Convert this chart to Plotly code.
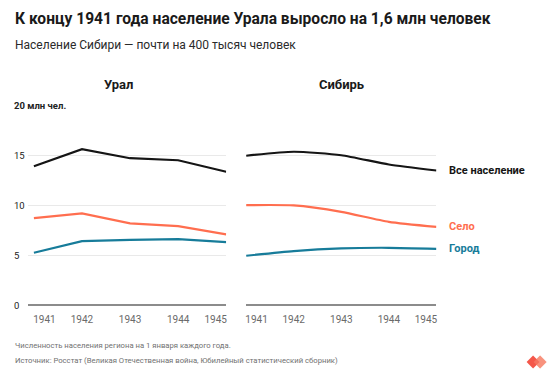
import plotly.graph_objects as go

# ---- data ----
years = [1941, 1942, 1943, 1944, 1945]
year_labels = ["1941", "1942", "1943", "1944", "1945"]

ural_total = [13.9, 15.6, 14.7, 14.5, 13.35]
ural_village = [8.7, 9.17, 8.17, 7.9, 7.07]
ural_city = [5.23, 6.4, 6.53, 6.6, 6.3]

sib_total = [14.95, 15.35, 15.0, 14.07, 13.47]
sib_village = [10.0, 9.97, 9.33, 8.33, 7.83]
sib_city = [4.93, 5.4, 5.67, 5.73, 5.63]

series_names = ["Все население", "Село", "Город"]
y_ticks = [0, 5, 10, 15, 20]
y_tick_text = ["0", "5", "10", "15", "20 млн чел."]

title = "К концу 1941 года население Урала выросло на 1,6 млн человек"
subtitle = "Население Сибири — почти на 400 тысяч человек"
panel_titles = ["Урал", "Сибирь"]
note1 = "Численность населения региона на 1 января каждого года."
note2 = "Источник: Росстат (Великая Отечественная война, Юбилейный статистический сборник)"

# ---- style ----
OFF = 8  # page body margin
W, H = 556 - OFF, 377 - OFF
FONT = "Roboto"
colors = ["#151515", "#FF6E4F", "#177C9A"]
LW = 2.2


def px_x(p):
    return (p - OFF) / W


def px_y(p):
    return 1 - (p - OFF) / H


fig = go.Figure()

for series, col in zip([ural_total, ural_village, ural_city], colors):
    fig.add_trace(go.Scatter(x=years, y=series, mode="lines",
                             line=dict(color=col, width=LW),
                             xaxis="x", yaxis="y", showlegend=False,
                             hoverinfo="skip"))
for series, col in zip([sib_total, sib_village, sib_city], colors):
    fig.add_trace(go.Scatter(x=years, y=series, mode="lines",
                             line=dict(color=col, width=LW, shape="spline", smoothing=0.6),
                             xaxis="x2", yaxis="y2", showlegend=False,
                             hoverinfo="skip"))

inset = 0.22
tickvals = [years[0] + inset] + years[1:-1] + [years[-1] - inset]

xcommon = dict(showgrid=False, zeroline=False, showline=False,
               tickvals=tickvals, ticktext=year_labels,
               ticks="outside", ticklen=5, tickcolor="rgba(0,0,0,0)",
               tickfont=dict(family=FONT, size=10, color="#6a6a6a"),
               fixedrange=True)
ycommon = dict(range=[0, 20.06], tickvals=y_ticks, showticklabels=False,
               showgrid=True, gridcolor="#e9e9e9", gridwidth=1,
               zeroline=True, zerolinecolor="#8c8c8c", zerolinewidth=1.6,
               showline=False, fixedrange=True)

y_dom = [px_y(305), px_y(104.7)]
fig.update_layout(
    width=W, height=H,
    margin=dict(l=0, r=0, t=0, b=0),
    paper_bgcolor="white", plot_bgcolor="white",
    xaxis=dict(domain=[px_x(27), px_x(226)],
               range=[1941 - 6 / 48.25, 1945], anchor="y", **xcommon),
    xaxis2=dict(domain=[px_x(246), px_x(437)],
                range=[1941, 1945], anchor="y2", **xcommon),
    yaxis=dict(domain=y_dom, anchor="x", **ycommon),
    yaxis2=dict(domain=y_dom, anchor="x2", **ycommon),
)

ann = []
ann.append(dict(text="<b>" + title + "</b>", x=px_x(12), y=px_y(19), xref="paper", yref="paper",
                xanchor="left", yanchor="middle", showarrow=False,
                font=dict(family=FONT, size=15.6, color="#1a1a1a")))
ann.append(dict(text=subtitle, x=px_x(12), y=px_y(45), xref="paper", yref="paper",
                xanchor="left", yanchor="middle", showarrow=False,
                font=dict(family=FONT, size=12, color="#2a2a2a")))
for t, cx in zip(panel_titles, [118, 342]):
    ann.append(dict(text="<b>" + t + "</b>", x=px_x(cx), y=px_y(84), xref="paper", yref="paper",
                    xanchor="center", yanchor="middle", showarrow=False,
                    font=dict(family=FONT, size=13, color="#1a1a1a")))
for v, t in zip(y_ticks, y_tick_text):
    ann.append(dict(text="<b>" + t + "</b>" if v == 20 else t, x=px_x(11), y=v, xref="paper", yref="y",
                    xanchor="left", yanchor="middle", showarrow=False,
                    bgcolor="white", borderpad=1,
                    font=dict(family=FONT, size=9.5, color="#222")))
for name, series, col in zip(series_names, [sib_total, sib_village, sib_city], colors):
    ann.append(dict(text="<b>" + name + "</b>", x=years[-1], y=series[-1], xref="x2", yref="y2",
                    xanchor="left", yanchor="middle", xshift=11, showarrow=False,
                    font=dict(family=FONT, size=11, color=col)))
ann.append(dict(text=note1, x=px_x(12), y=px_y(345), xref="paper", yref="paper",
                xanchor="left", yanchor="middle", showarrow=False,
                font=dict(family=FONT, size=7.7, color="#707070")))
ann.append(dict(text=note2, x=px_x(12), y=px_y(360), xref="paper", yref="paper",
                xanchor="left", yanchor="middle", showarrow=False,
                font=dict(family=FONT, size=7.7, color="#707070")))
fig.update_layout(annotations=ann)


# logo (decorative heart made of two diamonds)
def diamond(cx, cy, r):
    pts = [(cx, cy - r), (cx + r, cy), (cx, cy + r), (cx - r, cy)]
    return "M " + " L ".join(f"{px_x(a):.5f},{px_y(b):.5f}" for a, b in pts) + " Z"


fig.add_shape(type="path", xref="paper", yref="paper", path=diamond(541, 362, 6.5),
              fillcolor="#F8A08F", line=dict(width=0))
fig.add_shape(type="path", xref="paper", yref="paper", path=diamond(534, 362, 6.5),
              fillcolor="#F4574A", line=dict(width=0))
fig.add_shape(type="path", xref="paper", yref="paper", path=diamond(541, 362, 6.5),
              fillcolor="#F8866F", opacity=0.55, line=dict(width=0))

fig.write_html("out.html")
